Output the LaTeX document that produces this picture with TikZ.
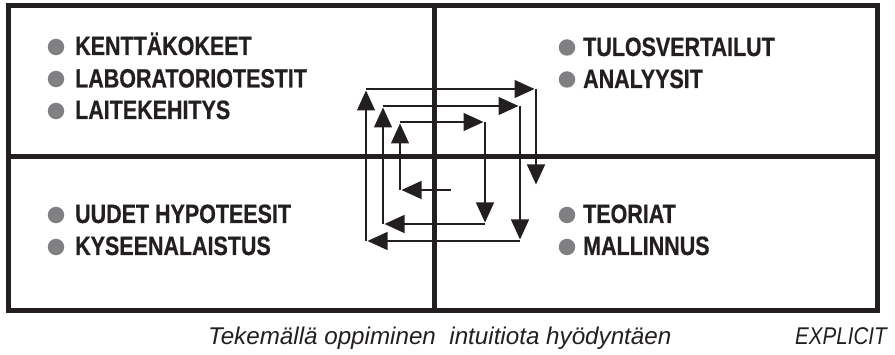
\documentclass[tikz,border=0pt]{standalone}
\usepackage{fontspec}
\usepackage{graphicx}
\usetikzlibrary{arrows.meta}
\setmainfont{Liberation Sans}
\newfontfamily\labelfont{Liberation Sans}[FakeStretch=0.81, FakeBold=0.6]
\definecolor{ink}{HTML}{231F20}
\definecolor{dotgray}{HTML}{808083}
\tikzset{
  frame/.style={draw=ink, line width=5pt},
  flow/.style={draw=ink, line width=1.3pt, -{Triangle[length=20pt,width=18pt]}, shorten >=1.5pt},
  dot/.style={circle, fill=dotgray, inner sep=0pt, minimum size=16.5pt},
  lbl/.style={anchor=base west, inner sep=0pt, text=ink, font=\labelfont\bfseries\fontsize{26.5}{30}\selectfont},
  note/.style={anchor=base west, inner sep=0pt, text=ink, font=\rmfamily\itshape\fontsize{24.2}{28}\selectfont}
}
\begin{document}
\begin{tikzpicture}[x=1pt, y=-1pt]
\useasboundingbox (0,0) rectangle (895,355);
% frame
\draw[frame] (8.5,6) rectangle (877,311);
\draw[frame] (434.5,6) -- (434.5,311);
\draw[frame] (8.5,156.5) -- (877,156.5);
% spiral corners
\coordinate (c0) at (451,190);
\coordinate (c1) at (400,190);
\coordinate (c2) at (400,122);
\coordinate (c3) at (485,122);
\coordinate (c4) at (485,224);
\coordinate (c5) at (383,224);
\coordinate (c6) at (383,106);
\coordinate (c7) at (520,106);
\coordinate (c8) at (520,241);
\coordinate (c9) at (366,241);
\coordinate (c10) at (366,89);
\coordinate (c11) at (536,89);
\coordinate (c12) at (536,186);
\draw[flow] (c0) -- (c1);
\draw[flow] (c1) -- (c2);
\draw[flow] (c2) -- (c3);
\draw[flow] (c3) -- (c4);
\draw[flow] (c4) -- (c5);
\draw[flow] (c5) -- (c6);
\draw[flow] (c6) -- (c7);
\draw[flow] (c7) -- (c8);
\draw[flow] (c8) -- (c9);
\draw[flow] (c9) -- (c10);
\draw[flow] (c10) -- (c11);
\draw[flow] (c11) -- (c12);
% top left
\node[dot] (d1) at (56,47) {};
\node[lbl] (t1) at (75,55) {KENTTÄKOKEET};
\node[dot] (d2) at (56,79) {};
\node[lbl] (t2) at (75,87.5) {LABORATORIOTESTIT};
\node[dot] (d3) at (56,111) {};
\node[lbl] (t3) at (75,119) {LAITEKEHITYS};
% top right
\node[dot] (d4) at (567,47.5) {};
\node[lbl] (t4) at (583,56) {TULOSVERTAILUT};
\node[dot] (d5) at (567,79.5) {};
\node[lbl] (t5) at (583,88) {ANALYYSIT};
% bottom left
\node[dot] (d6) at (56,215) {};
\node[lbl] (t6) at (75,223) {UUDET HYPOTEESIT};
\node[dot] (d7) at (56,247) {};
\node[lbl] (t7) at (75,255) {KYSEENALAISTUS};
% bottom right
\node[dot] (d8) at (567,215) {};
\node[lbl] (t8) at (583,223) {TEORIAT};
\node[dot] (d9) at (567,247) {};
\node[lbl] (t9) at (583,255) {MALLINNUS};
% bottom notes
\node[note] (n1) at (208,345) {Tekemällä oppiminen\ \ intuitiota hyödyntäen};
\node[note] (n2) at (795,345) {\scalebox{0.85}[1]{EXPLICIT}};
\end{tikzpicture}
\end{document}
